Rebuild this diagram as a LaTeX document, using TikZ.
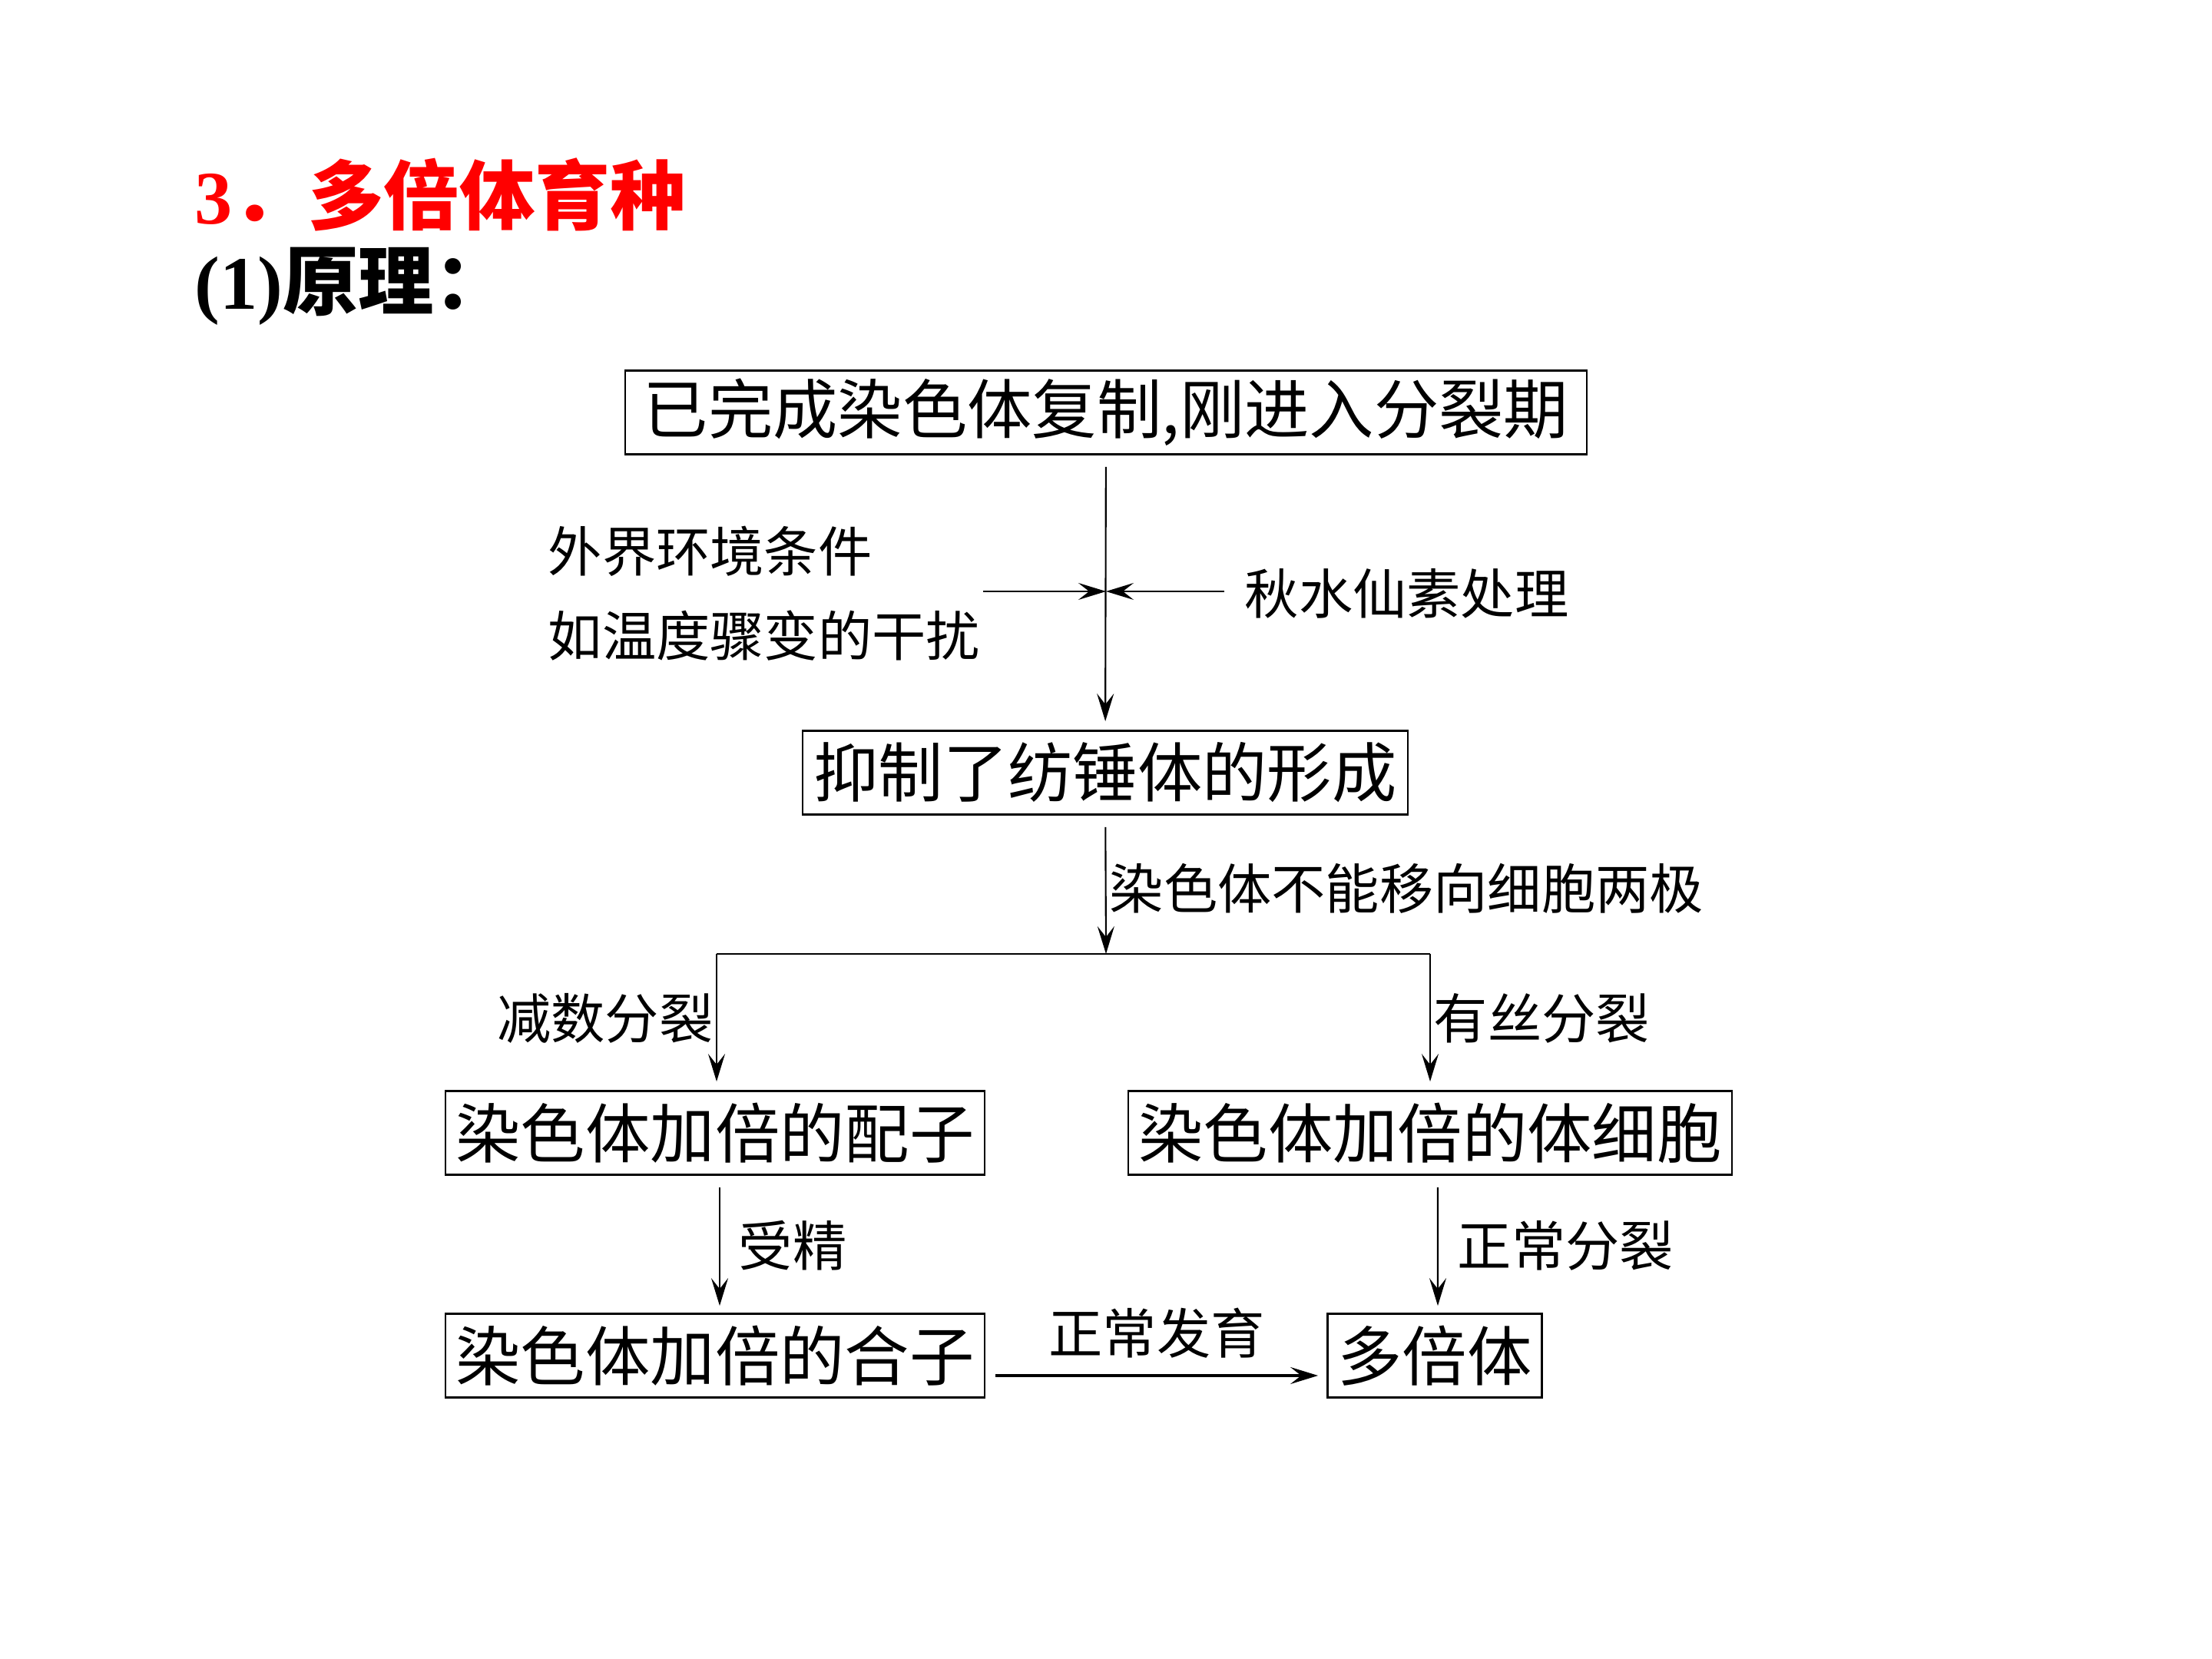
\documentclass[tikz,border=0pt]{standalone}
\usepackage{fontspec}
\setmainfont{Liberation Serif}
\newfontfamily\cjk{Noto Sans CJK SC}
\usetikzlibrary{arrows.meta}

\begin{document}
\begin{tikzpicture}[
  box/.style={draw,line width=0.8pt,inner sep=0pt,minimum height=1.09cm,font=\cjk\fontsize{24}{28}\selectfont},
  lab/.style={inner sep=0pt,font=\cjk\fontsize{20}{24}\selectfont},
  arr/.style={line width=0.6pt,-{Stealth[length=3.6mm,width=2.2mm,inset=1.4mm]}}]
  \useasboundingbox (0,0) rectangle (28.8,-21.6);
  % heading
  \node[anchor=west,inner sep=0pt,red,font=\fontsize{28}{32}\selectfont\bfseries] (title) at (2.53,-2.53) {3{\cjk\bfseries ．多倍体育种}};
  \node[anchor=west,inner sep=0pt,font=\fontsize{28}{32}\selectfont\bfseries] (principle) at (2.53,-3.73) {(1){\cjk\bfseries 原理：}};
  % boxes
  \node[box,minimum width=12.52cm] (start) at (14.40,-5.37) {已完成染色体复制,刚进入分裂期};
  \node[box,minimum width=7.88cm] (spindle) at (14.39,-10.06) {抑制了纺锤体的形成};
  \node[box,minimum width=7.02cm] (gamete) at (9.31,-14.75) {染色体加倍的配子};
  \node[box,minimum width=7.86cm] (soma) at (18.62,-14.75) {染色体加倍的体细胞};
  \node[box,minimum width=7.02cm] (zygote) at (9.31,-17.65) {染色体加倍的合子};
  \node[box,minimum width=2.79cm] (poly) at (18.68,-17.65) {多倍体};
  % treatment arrows
  \coordinate (cross) at (14.40,-7.70);
  \coordinate (envend) at (12.80,-7.70);
  \coordinate (colend) at (15.94,-7.70);
  \draw[arr,shorten <=1.5mm,shorten >=1.1mm] (start) -- (spindle);
  \draw[arr] (envend) -- (cross);
  \draw[arr] (colend) -- (cross);
  \node[lab,anchor=west] (env1) at (7.13,-7.18) {外界环境条件};
  \node[lab,anchor=west] (env2) at (7.13,-8.28) {如温度骤变的干扰};
  \node[lab,anchor=west] (colch) at (16.20,-7.73) {秋水仙素处理};
  % branching
  \coordinate (fork) at (14.40,-12.42);
  \coordinate (forkl) at (9.33,-12.42);
  \coordinate (forkr) at (18.62,-12.42);
  \draw[arr,shorten <=1.5mm] (spindle) -- (fork);
  \draw[line width=0.6pt] (forkl) -- (forkr);
  \draw[arr,shorten >=1.1mm] (forkl) -- (forkl |- gamete.north);
  \draw[arr,shorten >=1.1mm] (forkr) -- (soma);
  \node[lab,anchor=west] (poles) at (14.44,-11.57) {染色体不能移向细胞两极};
  \node[lab,anchor=east] (meio) at (9.29,-13.26) {减数分裂};
  \node[lab,anchor=west] (mito) at (18.66,-13.26) {有丝分裂};
  % lower arrows
  \draw[arr,shorten <=1.5mm,shorten >=0.9mm] ([xshift=0.6mm]gamete.south) -- ([xshift=0.6mm]zygote.north);
  \draw[arr,shorten <=1.5mm,shorten >=0.9mm] ([xshift=1mm]soma.south) -- ([xshift=0.4mm]poly.north);
  \draw[arr,line width=0.9pt] ([xshift=1.3mm,yshift=-2.6mm]zygote.east) -- ([xshift=-1.1mm,yshift=-2.6mm]poly.west);
  \node[lab,anchor=west] (fert) at (9.61,-16.22) {受精};
  \node[lab,anchor=west] (normdiv) at (18.97,-16.22) {正常分裂};
  \node[lab] (normdev) at (15.06,-17.36) {正常发育};
\end{tikzpicture}
\end{document}
